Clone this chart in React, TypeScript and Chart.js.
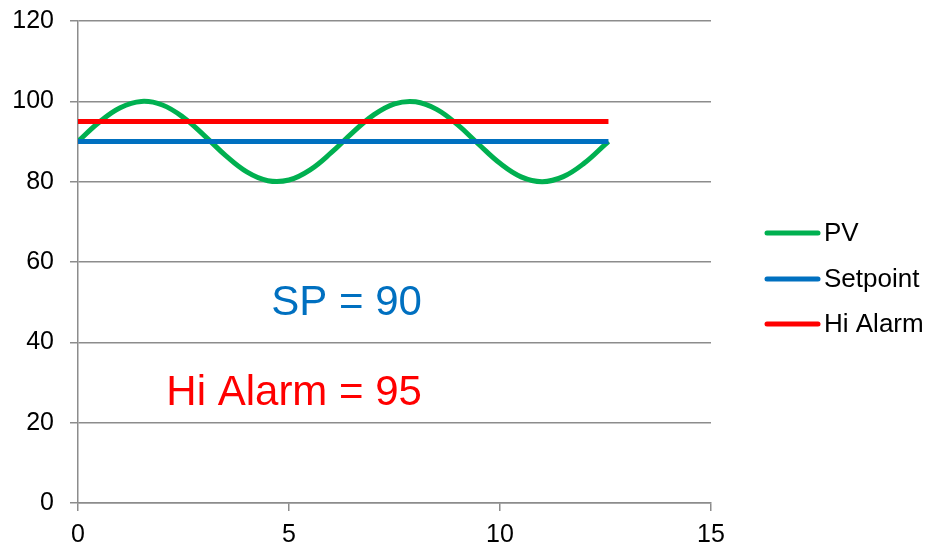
import React, { useEffect, useRef } from "react";
import { Chart, registerables } from "chart.js";

Chart.register(...registerables);

const pvX = [0, 0.5, 1, 1.5, 2, 2.5, 3, 3.5, 4, 4.5, 5, 5.5, 6, 6.5, 7, 7.5, 8, 8.5, 9, 9.5, 10, 10.5, 11, 11.5, 12, 12.5, 12.57];
const pvY = [90, 94.79, 98.41, 99.97, 99.09, 95.98, 91.41, 86.49, 82.43, 80.23, 80.41, 82.94, 87.21, 92.15, 96.57, 99.38, 99.89, 97.99, 94.12, 89.25, 84.56, 81.2, 80.0, 81.25, 84.63, 89.34, 90.0];
const spX = [0, 12.57];
const spY = [90, 90];
const hiX = [0, 12.57];
const hiY = [95, 95];
const seriesLabels = ["PV", "Setpoint", "Hi Alarm"];
const seriesColors = ["#00B050", "#0070C0", "#FF0000"];
const annotationTexts = ["SP = 90", "Hi Alarm = 95"];

const FONT = "'Liberation Sans', Arial, sans-serif";
const GRID = "#8c8c8c";

const toPoints = (xs: number[], ys: number[]) => xs.map((x, i) => ({ x, y: ys[i] }));

export default function App() {
  const ref = useRef<HTMLCanvasElement | null>(null);
  useEffect(() => {
    if (!ref.current) return;
    const overlay = {
      id: "overlay",
      afterDraw(chart: any) {
        const ctx = chart.ctx;
        const xs = chart.scales.x;
        const ys = chart.scales.y;
        ctx.save();
        ctx.font = `42px ${FONT}`;
        ctx.textAlign = "right";
        ctx.textBaseline = "alphabetic";
        ctx.fillStyle = seriesColors[1];
        ctx.fillText(annotationTexts[0], xs.getPixelForValue(8.15), ys.getPixelForValue(46.7));
        ctx.fillStyle = seriesColors[2];
        ctx.fillText(annotationTexts[1], xs.getPixelForValue(8.15), ys.getPixelForValue(24.3));
        const rows = [233, 279, 324];
        ctx.font = `26px ${FONT}`;
        ctx.textAlign = "left";
        ctx.textBaseline = "middle";
        seriesLabels.forEach((lab, i) => {
          ctx.strokeStyle = seriesColors[i];
          ctx.lineWidth = 5;
          ctx.lineCap = "round";
          ctx.beginPath();
          ctx.moveTo(767, rows[i]);
          ctx.lineTo(818, rows[i]);
          ctx.stroke();
          ctx.fillStyle = "#000";
          ctx.fillText(lab, 824, rows[i] + 1);
        });
        ctx.restore();
      },
    };
    const chart = new Chart(ref.current, {
      type: "line",
      data: {
        datasets: [
          { label: seriesLabels[0], data: toPoints(pvX, pvY), borderColor: seriesColors[0], borderWidth: 5, pointRadius: 0, tension: 0.4, order: 3 },
          { label: seriesLabels[1], data: toPoints(spX, spY), borderColor: seriesColors[1], borderWidth: 5, pointRadius: 0, order: 2 },
          { label: seriesLabels[2], data: toPoints(hiX, hiY), borderColor: seriesColors[2], borderWidth: 5, pointRadius: 0, order: 1 },
        ],
      },
      options: {
        animation: false,
        responsive: true,
        maintainAspectRatio: false,
        layout: { padding: { top: 21, right: 216, left: 0, bottom: 0 } },
        plugins: { legend: { display: false }, tooltip: { enabled: false } },
        scales: {
          x: {
            type: "linear",
            min: 0,
            max: 15,
            afterFit: (s: any) => { s.height = 44; s.paddingLeft = 0; s.paddingRight = 0; },
            ticks: { stepSize: 5, color: "#000", font: { family: FONT, size: 25 }, padding: 9, maxRotation: 0 },
            grid: { drawOnChartArea: false, drawTicks: true, tickLength: 8, color: GRID, lineWidth: 1.5 },
            border: { display: true, color: GRID, width: 1.5 },
          },
          y: {
            type: "linear",
            min: 0,
            max: 120,
            afterFit: (s: any) => { s.width = 78; s.paddingTop = 0; s.paddingBottom = 0; },
            ticks: { stepSize: 20, color: "#000", font: { family: FONT, size: 25 }, padding: 16 },
            grid: { drawOnChartArea: true, drawTicks: true, tickLength: 8, color: GRID, lineWidth: 1.5 },
            border: { display: true, color: GRID, width: 1.5 },
          },
        },
      },
      plugins: [overlay],
    });
    return () => chart.destroy();
  }, []);
  return (
    <div style={{ position: "absolute", left: 0, top: 0, width: 927, height: 547, background: "#fff" }}>
      <canvas ref={ref} />
    </div>
  );
}
